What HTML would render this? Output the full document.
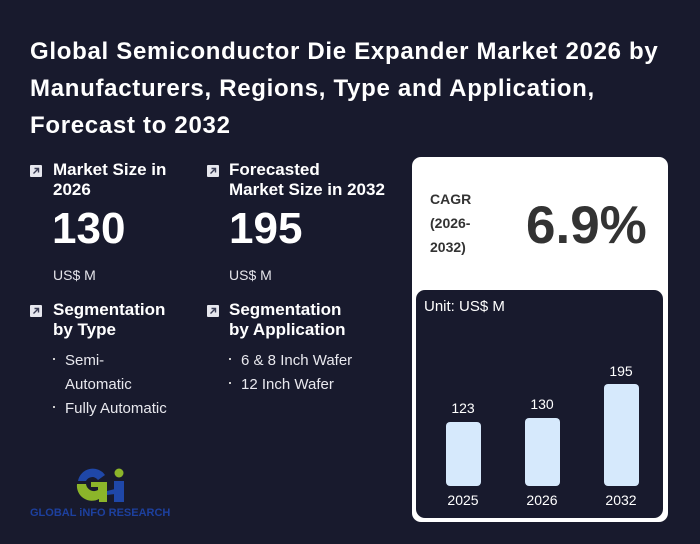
<!DOCTYPE html>
<html><head><meta charset="utf-8">
<style>
*{margin:0;padding:0;box-sizing:border-box}
body{width:700px;height:544px;background:#181a2d;font-family:"Liberation Sans",Arial,sans-serif;color:#fff;position:relative;overflow:hidden}
.t{position:absolute;left:30px;top:33px;font-size:24px;font-weight:bold;line-height:37px;letter-spacing:0.7px;color:#fff;white-space:nowrap}
.ic{position:absolute;width:12px;height:12px;background:#e6e7ee;border-radius:1px}
.ic svg{position:absolute;left:0;top:0}
.h{position:absolute;font-size:17px;font-weight:bold;line-height:20px;color:#fff;white-space:nowrap}
.big{position:absolute;font-size:44px;font-weight:bold;color:#fff;line-height:44px}
.u{position:absolute;font-size:14px;color:#e4e4ea;line-height:16px}
.li{position:absolute;font-size:15px;color:#e8e8ee;line-height:24px;white-space:nowrap}
.dot{position:absolute;width:2px;height:2px;background:#ccc}
.card{position:absolute;left:412px;top:157px;width:256px;height:365px;background:#fff;border-radius:9px}
.inner{position:absolute;left:416px;top:290px;width:247px;height:228px;background:#181a2d;border-radius:9px}
.bar{position:absolute;width:35px;background:#d6e9fc;border-radius:4px;bottom:32px}
.bl{position:absolute;width:60px;text-align:center;font-size:14px;color:#fff;line-height:16px}
</style></head><body>
<div class="t">Global Semiconductor Die Expander Market 2026 by<br>Manufacturers, Regions, Type and Application,<br>Forecast to 2032</div>

<div class="ic" style="left:30px;top:165px"><svg width="12" height="12"><path d="M3.5 8.5 L8.5 3.5 M4.5 3.5 H8.5 V7.5" stroke="#3a3d55" stroke-width="1.4" fill="none"/></svg></div>
<div class="h" style="left:53px;top:160px">Market Size in<br>2026</div>
<div class="big" style="left:52px;top:207px">130</div>
<div class="u" style="left:53px;top:267px">US$ M</div>

<div class="ic" style="left:207px;top:165px"><svg width="12" height="12"><path d="M3.5 8.5 L8.5 3.5 M4.5 3.5 H8.5 V7.5" stroke="#3a3d55" stroke-width="1.4" fill="none"/></svg></div>
<div class="h" style="left:229px;top:160px">Forecasted<br>Market Size in 2032</div>
<div class="big" style="left:229px;top:207px">195</div>
<div class="u" style="left:229px;top:267px">US$ M</div>

<div class="ic" style="left:30px;top:305px"><svg width="12" height="12"><path d="M3.5 8.5 L8.5 3.5 M4.5 3.5 H8.5 V7.5" stroke="#3a3d55" stroke-width="1.4" fill="none"/></svg></div>
<div class="h" style="left:53px;top:300px">Segmentation<br>by Type</div>
<div class="dot" style="left:53px;top:358px"></div>
<div class="li" style="left:65px;top:349px">Semi-<br>Automatic</div>
<div class="dot" style="left:53px;top:406px"></div>
<div class="li" style="left:65px;top:397px">Fully Automatic</div>

<div class="ic" style="left:207px;top:305px"><svg width="12" height="12"><path d="M3.5 8.5 L8.5 3.5 M4.5 3.5 H8.5 V7.5" stroke="#3a3d55" stroke-width="1.4" fill="none"/></svg></div>
<div class="h" style="left:229px;top:300px">Segmentation<br>by Application</div>
<div class="dot" style="left:229px;top:358px"></div>
<div class="li" style="left:241px;top:349px">6 &amp; 8 Inch Wafer</div>
<div class="dot" style="left:229px;top:382px"></div>
<div class="li" style="left:241px;top:373px">12 Inch Wafer</div>

<svg style="position:absolute;left:74px;top:467px" width="54" height="38" viewBox="0 0 54 38">
<path d="M4 14 A15 15 0 0 1 31 8 L24 13 A7 7 0 0 0 12 14 Z" fill="#1f47a8"/>
<path d="M3 17 H12 A8 8 0 0 0 24 23 V20 H17 V15 H33 V35 H25 V32 A15 15 0 0 1 3 17 Z" fill="#8cb52a"/>
<circle cx="45" cy="6" r="4.5" fill="#8cb52a"/>
<path d="M40 14 H50 V35 H40 Z" fill="#1f47a8"/>
<path d="M33 24 L41 22 L41 27 L33 28 Z" fill="#1f47a8"/>
</svg>
<div style="position:absolute;left:30px;top:507px;font-size:11px;font-weight:bold;color:#1d409e;letter-spacing:0px;white-space:nowrap;line-height:12px">GLOBAL iNFO RESEARCH</div>

<div class="card"></div>
<div style="position:absolute;left:430px;top:187px;font-size:14px;font-weight:bold;color:#333;line-height:24px">CAGR<br>(2026-<br>2032)</div>
<div style="position:absolute;left:526px;top:199px;font-size:53px;font-weight:bold;color:#333;line-height:54px">6.9%</div>

<div class="inner">
<div style="position:absolute;left:8px;top:9px;font-size:15px;color:#fff;line-height:16px">Unit: US$ M</div>
<div class="bar" style="left:30px;height:64px"></div>
<div class="bar" style="left:109px;height:68px"></div>
<div class="bar" style="left:188px;height:102px"></div>
<div class="bl" style="left:17px;top:110px">123</div>
<div class="bl" style="left:96px;top:106px">130</div>
<div class="bl" style="left:175px;top:73px">195</div>
<div class="bl" style="left:17px;top:202px">2025</div>
<div class="bl" style="left:96px;top:202px">2026</div>
<div class="bl" style="left:175px;top:202px">2032</div>
</div>
</body></html>
